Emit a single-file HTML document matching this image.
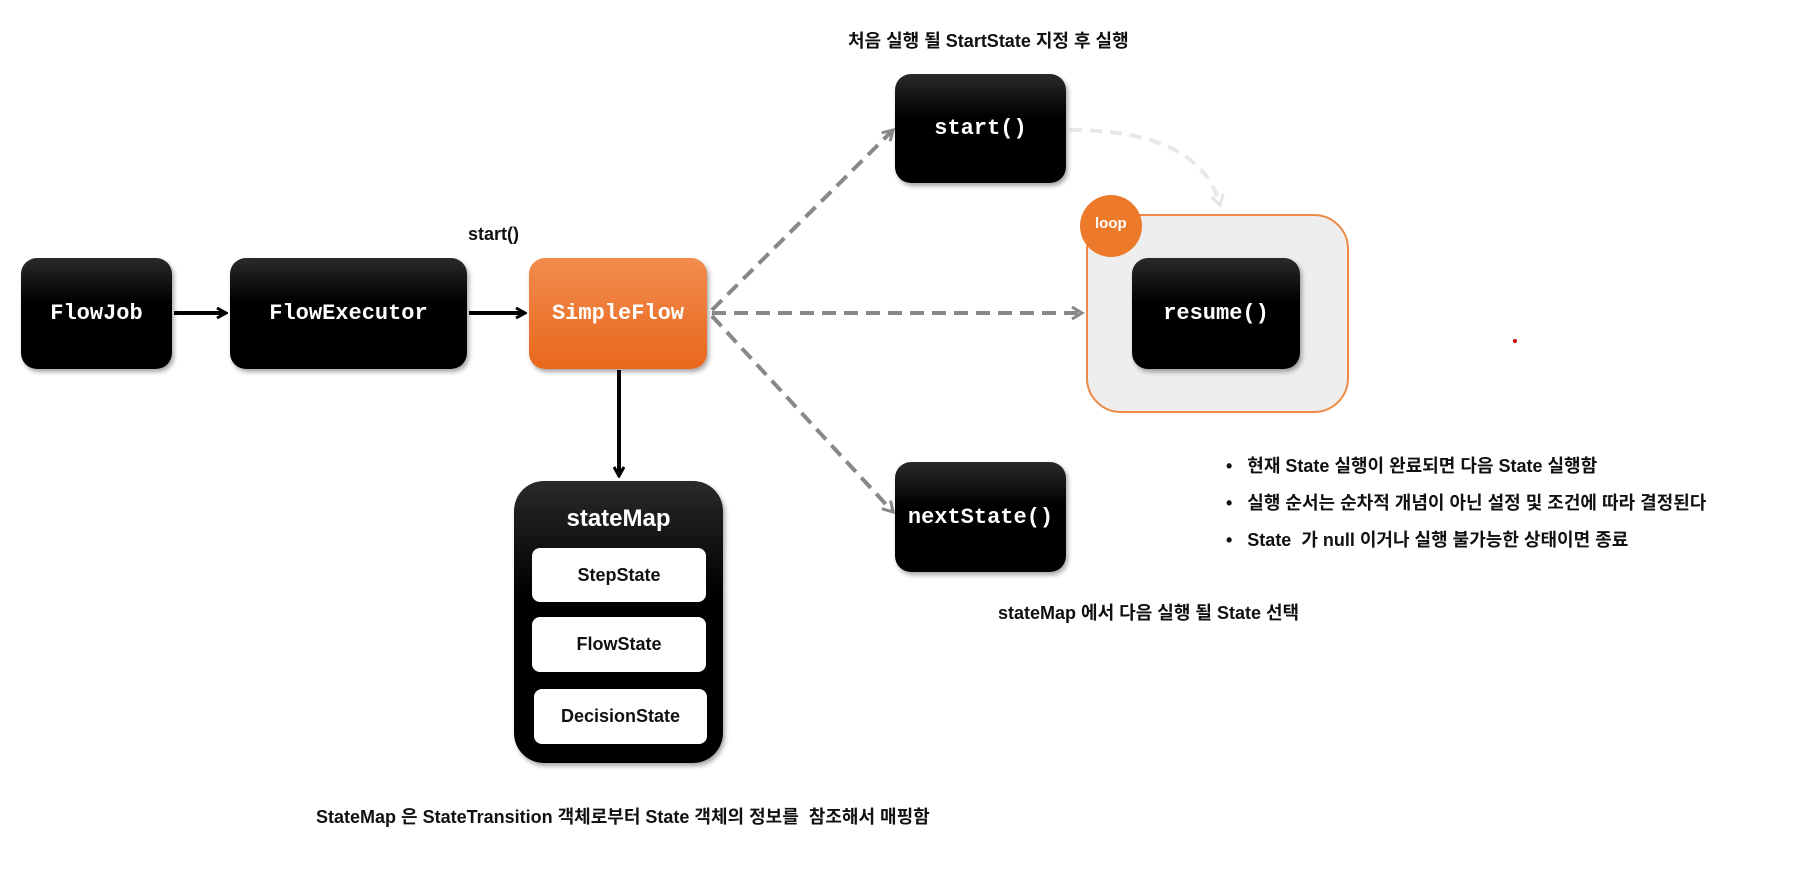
<!DOCTYPE html>
<html><head><meta charset="utf-8"><style>
body{margin:0;width:1820px;height:881px;background:#fff;position:relative;overflow:hidden;font-family:"Liberation Sans","Noto Sans CJK KR",sans-serif}
.n{position:absolute;background:linear-gradient(#2a2a2a,#000 40%);border-radius:16px;color:#fff;font:bold 22px "Liberation Mono",monospace;display:flex;align-items:center;justify-content:center;box-shadow:2px 3px 5px rgba(0,0,0,.35)}
.t{position:absolute;font-weight:bold;color:#111;white-space:nowrap}
.w{position:absolute;background:#fff;border-radius:8px;color:#111;font:bold 18px "Liberation Sans",sans-serif;display:flex;align-items:center;justify-content:center}
</style></head><body>
<svg width="1820" height="881" style="position:absolute;left:0;top:0">
<defs>
<marker id="a" markerWidth="12" markerHeight="12" refX="10" refY="6" orient="auto" markerUnits="userSpaceOnUse"><path d="M1,1 L10,6 L1,11" fill="none" stroke="#000" stroke-width="3"/></marker>
<marker id="g" markerWidth="14" markerHeight="14" refX="11" refY="7" orient="auto" markerUnits="userSpaceOnUse"><path d="M1,1 L11,7 L1,13" fill="none" stroke="#888" stroke-width="3"/></marker>
<marker id="l" markerWidth="14" markerHeight="14" refX="11" refY="7" orient="auto" markerUnits="userSpaceOnUse"><path d="M1,1 L11,7 L1,13" fill="none" stroke="#e4e4e4" stroke-width="3"/></marker>
</defs>
<line x1="174" y1="313" x2="226" y2="313" stroke="#000" stroke-width="4" marker-end="url(#a)"/>
<line x1="469" y1="313" x2="525" y2="313" stroke="#000" stroke-width="4" marker-end="url(#a)"/>
<line x1="619" y1="370" x2="619" y2="476" stroke="#000" stroke-width="4" marker-end="url(#a)"/>
<line x1="712" y1="310" x2="893" y2="130" stroke="#888" stroke-width="4" stroke-dasharray="14,8" marker-end="url(#g)"/>
<line x1="712" y1="313" x2="1082" y2="313" stroke="#888" stroke-width="4" stroke-dasharray="14,8" marker-end="url(#g)"/>
<line x1="712" y1="316" x2="893" y2="512" stroke="#888" stroke-width="4" stroke-dasharray="14,8" marker-end="url(#g)"/>
<path d="M1070,130 Q1200,130 1220,205" fill="none" stroke="#e8e8e8" stroke-width="4" stroke-dasharray="12,8" marker-end="url(#l)"/>
<rect x="1087" y="215" width="261" height="197" rx="34" fill="#eeeeee" stroke="#ee8a45" stroke-width="2"/>
<circle cx="1111" cy="226" r="31" fill="#ec7a2a"/>
<circle cx="1515" cy="341" r="2" fill="#c00"/>
</svg>
<div class="t" style="left:1095px;top:215px;color:#fff;font-size:15px">loop</div>
<div class="n" style="left:21px;top:258px;width:151px;height:111px">FlowJob</div>
<div class="n" style="left:230px;top:258px;width:237px;height:111px">FlowExecutor</div>
<div class="n" style="left:529px;top:258px;width:178px;height:111px;background:linear-gradient(#f28c4e,#e8671c)">SimpleFlow</div>
<div class="t" style="left:468px;top:224px;font-size:18px">start()</div>
<div class="n" style="left:514px;top:481px;width:209px;height:282px;align-items:flex-start;padding-top:24px;box-sizing:border-box;border-radius:30px;font:bold 24px 'Liberation Sans',sans-serif">stateMap</div>
<div class="w" style="left:532px;top:548px;width:174px;height:54px">StepState</div>
<div class="w" style="left:532px;top:617px;width:174px;height:55px">FlowState</div>
<div class="w" style="left:534px;top:689px;width:173px;height:55px">DecisionState</div>
<div class="n" style="left:895px;top:74px;width:171px;height:109px">start()</div>
<div class="n" style="left:1132px;top:258px;width:168px;height:111px">resume()</div>
<div class="n" style="left:895px;top:462px;width:171px;height:110px">nextState()</div>
<div class="t" style="left:848px;top:27px;font-size:18px">처음 실행 될 StartState 지정 후 실행</div>
<div class="t" style="left:998px;top:599px;font-size:18px">stateMap 에서 다음 실행 될 State 선택</div>
<div class="t" style="left:316px;top:803px;font-size:18px">StateMap 은 StateTransition 객체로부터 State 객체의 정보를&nbsp; 참조해서 매핑함</div>
<div class="t" style="left:1226px;top:448px;font-size:18px;line-height:37px">•&nbsp;&nbsp; 현재 State 실행이 완료되면 다음 State 실행함<br>•&nbsp;&nbsp; 실행 순서는 순차적 개념이 아닌 설정 및 조건에 따라 결정된다<br>•&nbsp;&nbsp; State&nbsp; 가 null 이거나 실행 불가능한 상태이면 종료</div>
</body></html>
